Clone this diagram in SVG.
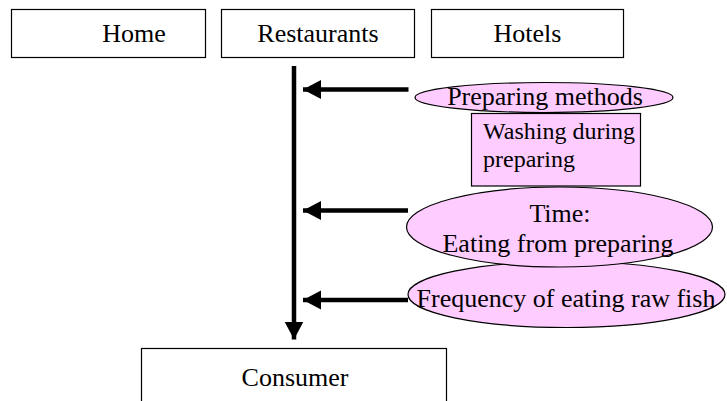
<svg xmlns="http://www.w3.org/2000/svg" width="727" height="401" viewBox="0 0 727 401">
  <defs>
    <style>
      .box { fill: #ffffff; stroke: #000000; stroke-width: 1.2; }
      .pink { fill: #ffccff; stroke: #000000; stroke-width: 1.2; }
      .lbl { font-family: "Liberation Serif", "Times New Roman", serif; font-size: 26px; fill: #000000; }
      .small { font-family: "Liberation Serif", "Times New Roman", serif; font-size: 24px; fill: #000000; }
      .flow { stroke: #000000; stroke-width: 4.5; fill: none; }
    </style>
    <marker id="head" markerUnits="userSpaceOnUse" markerWidth="20" markerHeight="20" refX="18" refY="9.5" orient="auto">
      <path d="M0,0 L18,9.5 L0,19 Z" fill="#000000"/>
    </marker>
  </defs>

  <rect width="727" height="401" fill="#ffffff"/>

  <!-- sources -->
  <g id="home">
    <rect class="box" x="11.5" y="9.5" width="194" height="48"/>
    <text class="lbl" x="134" y="42" text-anchor="middle">Home</text>
  </g>
  <g id="restaurants">
    <rect class="box" x="221.5" y="9.5" width="193" height="48"/>
    <text class="lbl" x="318" y="42" text-anchor="middle">Restaurants</text>
  </g>
  <g id="hotels">
    <rect class="box" x="431.5" y="9.5" width="192" height="48"/>
    <text class="lbl" x="527.5" y="42" text-anchor="middle">Hotels</text>
  </g>

  <!-- factors -->
  <g id="preparing-methods">
    <ellipse class="pink" cx="544" cy="97.5" rx="129" ry="15"/>
    <text class="lbl" x="545" y="105" text-anchor="middle">Preparing methods</text>
  </g>
  <g id="washing">
    <rect class="pink" x="471.5" y="113.5" width="169" height="72.5"/>
    <text class="small" x="483" y="139">Washing during</text>
    <text class="small" x="483" y="167">preparing</text>
  </g>
  <g id="frequency">
    <ellipse class="pink" cx="566.5" cy="294.5" rx="158.5" ry="33"/>
    <text class="lbl" x="566" y="307" text-anchor="middle">Frequency of eating raw fish</text>
  </g>
  <g id="time">
    <ellipse class="pink" cx="559.5" cy="227" rx="153" ry="40"/>
    <text class="lbl" x="560" y="222" text-anchor="middle">Time:</text>
    <text class="lbl" x="558" y="252" text-anchor="middle">Eating from preparing</text>
  </g>

  <!-- sink -->
  <g id="consumer">
    <rect class="box" x="141.5" y="348.5" width="305" height="70"/>
    <text class="lbl" x="295" y="386" text-anchor="middle">Consumer</text>
  </g>

  <!-- connectors -->
  <g id="connectors">
    <line class="flow" x1="294" y1="66" x2="294" y2="339.5" marker-end="url(#head)"/>
    <line class="flow" x1="408.5" y1="89.5" x2="303" y2="89.5" marker-end="url(#head)"/>
    <line class="flow" x1="408" y1="210.5" x2="303" y2="210.5" marker-end="url(#head)"/>
    <line class="flow" x1="408" y1="300" x2="303" y2="300" marker-end="url(#head)"/>
  </g>
</svg>
